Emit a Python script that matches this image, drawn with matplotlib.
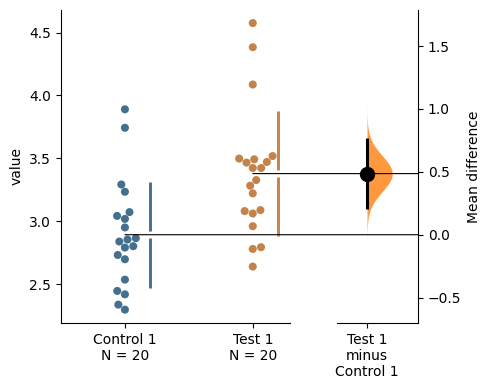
import numpy as np
import pandas as pd
import matplotlib
matplotlib.use("Agg")
import matplotlib.pyplot as plt
import matplotlib.transforms as mtransforms
from matplotlib.patches import ConnectionPatch
import seaborn as sns

groups = ["Control 1", "Test 1"]
control_1 = [3.890, 3.743, 3.292, 3.234, 3.072, 3.018, 3.042, 2.950, 2.838, 2.854,
             2.865, 2.790, 2.801, 2.731, 2.697, 2.535, 2.445, 2.418, 2.336, 2.296]
test_1 = [4.576, 4.384, 4.087, 3.518, 3.471, 3.492, 3.466, 3.498, 3.423, 3.423,
          3.327, 3.282, 3.221, 3.080, 3.061, 3.088, 2.960, 2.793, 2.779, 2.639]
tick_labels = ["Control 1\nN = 20", "Test 1\nN = 20"]
contrast_label = "Test 1\nminus\nControl 1"

palette = [sns.desaturate("tab:blue", 0.5), sns.desaturate("tab:orange", 0.5)]

df = pd.DataFrame({
    "group": [groups[0]] * len(control_1) + [groups[1]] * len(test_1),
    "value": control_1 + test_1,
})

fig = plt.figure(figsize=(4.9, 3.9), dpi=100)
ax1 = fig.add_axes([0.1245, 0.1718, 0.467, 0.8026])
ax2 = fig.add_axes([0.6878, 0.1718, 0.1653, 0.8026])

ylim1 = (2.19, 4.68)
ax1.set_ylim(ylim1)
ax1.set_xlim(-0.5, 1.29)

sns.swarmplot(data=df, x="group", y="value", hue="group", palette=palette,
              size=5.8, linewidth=0, legend=False, ax=ax1)
ax1.set_xlim(-0.5, 1.29)
ax1.set_ylim(ylim1)

# mean +/- sd as gapped lines
means = []
for i, vals in enumerate([control_1, test_1]):
    v = np.array(vals)
    m, sd = v.mean(), v.std(ddof=1)
    means.append(m)
    gap = 0.03
    ax1.plot([i + 0.2, i + 0.2], [m - sd, m - gap], color=palette[i], lw=2.1,
             solid_capstyle="butt")
    ax1.plot([i + 0.2, i + 0.2], [m + gap, m + sd], color=palette[i], lw=2.1,
             solid_capstyle="butt")

ax1.set_xticks([0, 1])
ax1.set_xticklabels(tick_labels)
ax1.set_xlabel("")
ax1.set_ylabel("value")
ax1.set_yticks([2.5, 3.0, 3.5, 4.0, 4.5])
ax1.spines["top"].set_visible(False)
ax1.spines["right"].set_visible(False)

# contrast axes: bootstrap-like distribution (normal approximation)
c = np.array(control_1)
t = np.array(test_1)
diff = t.mean() - c.mean()
se = np.sqrt(c.var() / len(c) + t.var() / len(t))
yy = np.linspace(diff - 3.8 * se, diff + 3.8 * se, 300)
dens = np.exp(-0.5 * ((yy - diff) / se) ** 2)
ax2.fill_betweenx(yy, 0, dens / dens.max() * 0.42, color="tab:orange",
                  alpha=0.8, lw=0)
ax2.plot([0, 0], [diff - 1.96 * se, diff + 1.96 * se], color="black", lw=2.2,
         solid_capstyle="butt")
ax2.plot([0], [diff], "o", color="black", markersize=10)

ax2.set_xlim(-0.5, 0.85)
ax2.set_ylim(ylim1[0] - c.mean(), ylim1[1] - c.mean())
ax2.set_xticks([0])
ax2.set_xticklabels([contrast_label])
ax2.set_yticks([-0.5, 0.0, 0.5, 1.0, 1.5])
ax2.yaxis.tick_right()
ax2.yaxis.set_label_position("right")
ax2.set_ylabel("Mean difference")
ax2.spines["top"].set_visible(False)
ax2.spines["left"].set_visible(False)

# horizontal lines from group means to the contrast axis
blend = mtransforms.blended_transform_factory(ax2.transAxes, ax2.transData)
for i, yb in [(0, 0.0), (1, diff)]:
    con = ConnectionPatch(xyA=(i, means[i]), coordsA=ax1.transData,
                          xyB=(1, yb), coordsB=blend, color="black", lw=0.8,
                          arrowstyle="-", shrinkA=0, shrinkB=0)
    fig.add_artist(con)

fig.savefig("out.png", dpi=100)
